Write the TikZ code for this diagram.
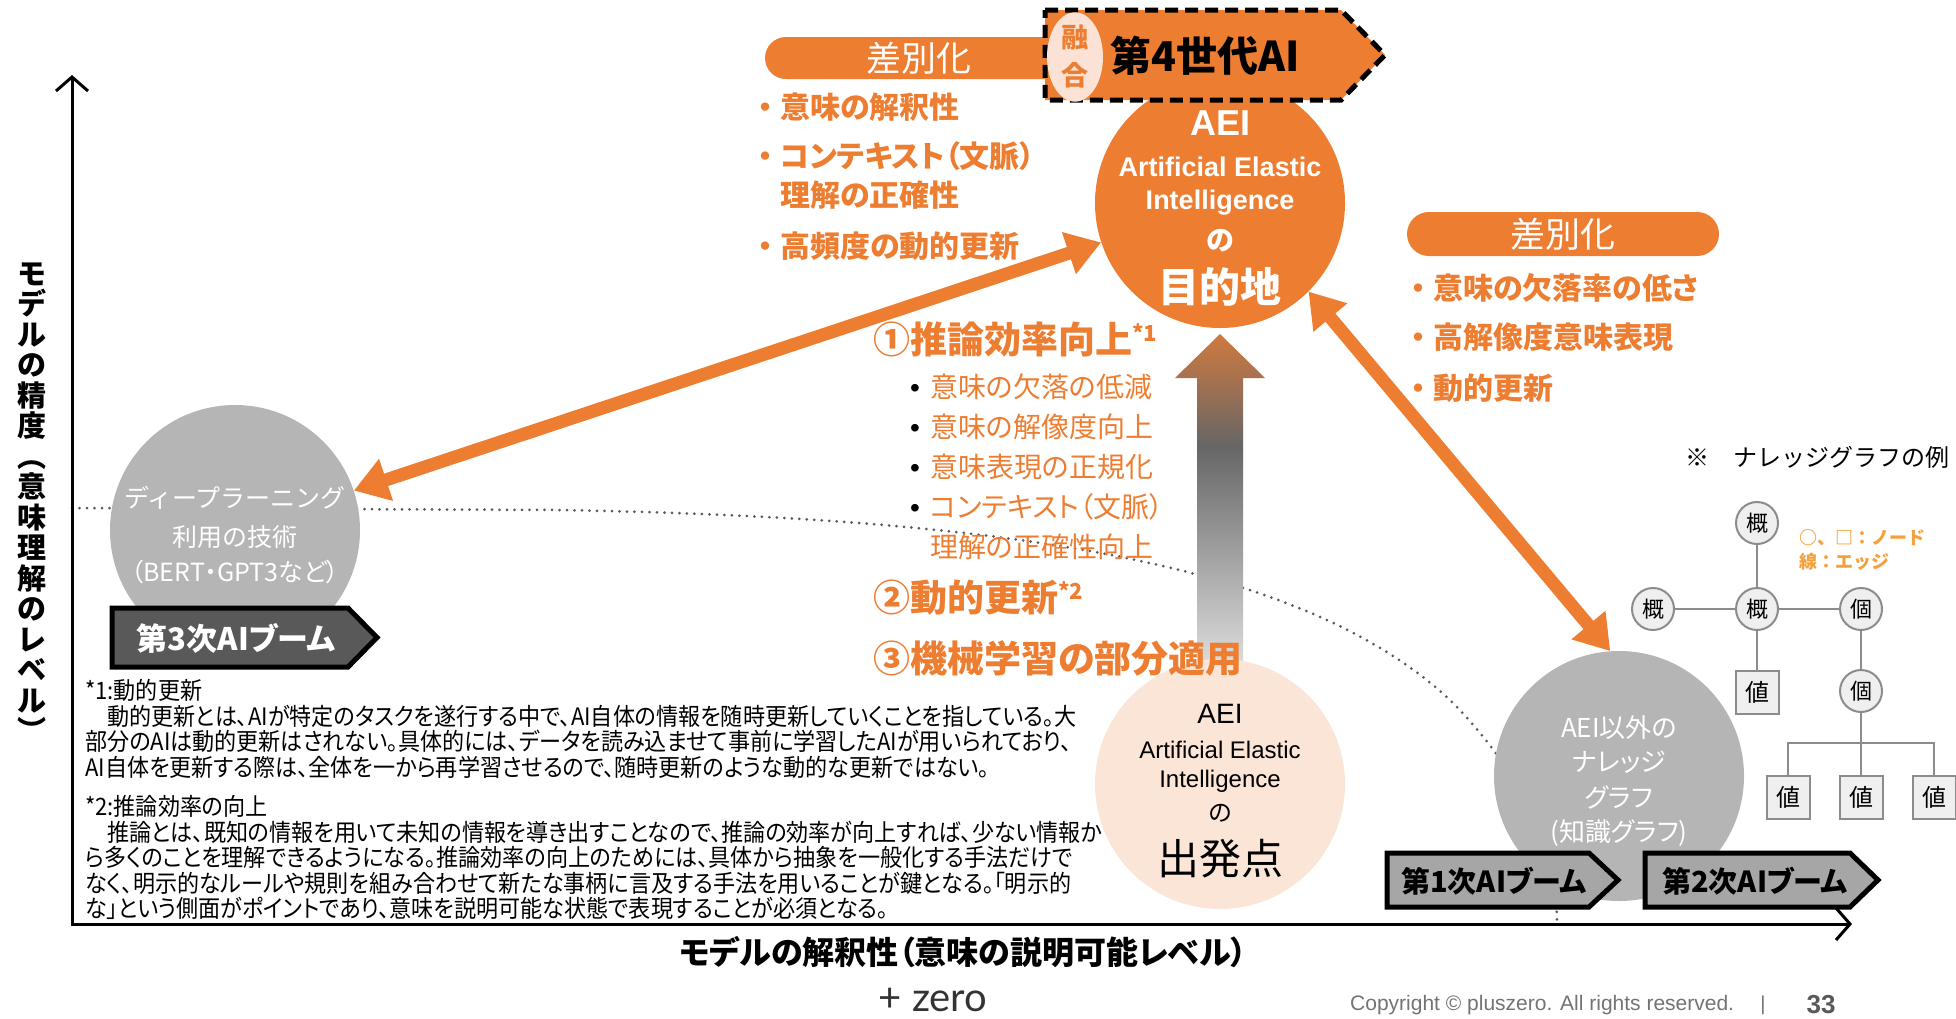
\documentclass[tikz,border=0pt]{standalone}
\usepackage{fontspec}
\setmainfont{Noto Sans CJK JP}[RawFeature=+palt]
\newfontfamily\fullfont{Noto Sans CJK JP}
\newfontfamily\latinfont{Liberation Sans}
\newfontfamily\notefont{Noto Sans CJK JP}[FakeStretch=0.92,RawFeature=+palt]
\newfontfamily\zerofont{Lato}
\usetikzlibrary{arrows.meta,shapes.geometric}

\definecolor{aeiorange}{HTML}{ED7D31}
\definecolor{aeipeach}{HTML}{FBE5D6}
\definecolor{fusionpink}{HTML}{FBE2D5}
\definecolor{boomgray}{HTML}{B5B5B5}
\definecolor{boomdark}{HTML}{595959}
\definecolor{boomlight}{HTML}{A6A6A6}
\definecolor{legendorange}{HTML}{F6A03C}
\definecolor{kgline}{HTML}{8C8C8C}
\definecolor{kgfill}{HTML}{EFEFEF}
\definecolor{lifttop}{HTML}{CF7A3F}
\definecolor{liftmid}{HTML}{666666}
\definecolor{liftlow}{HTML}{DDDDDD}
\pgfdeclareverticalshading{liftshade}{100bp}{color(0bp)=(liftlow); color(25bp)=(liftlow); color(58bp)=(liftmid); color(75bp)=(lifttop); color(100bp)=(lifttop)}
\newcommand{\fsz}[1]{\fontsize{#1}{#1}\selectfont}
\newcommand{\dotmark}{\makebox[30pt][c]{・}}

\begin{document}
\begin{tikzpicture}[x=1pt,y=-1pt,
    bigcircle/.style={circle,minimum size=250pt,inner sep=0pt},
    biarrow/.style={draw=aeiorange,line width=13pt,{Triangle[length=34pt,width=42pt]}-{Triangle[length=34pt,width=42pt]}},
    boomtag/.style={draw=black,line width=5pt,line join=miter},
    bullet/.style={anchor=west,inner sep=0pt,text=aeiorange,font=\bfseries\fsz{30}},
    subitem/.style={anchor=west,inner sep=0pt,text=aeiorange,font=\fsz{28}},
    gain/.style={anchor=west,inner sep=0pt,text=aeiorange,font=\bfseries\fsz{37}},
    kgnode/.style={circle,draw=kgline,fill=kgfill,line width=2pt,minimum size=42pt,inner sep=0pt,font=\fsz{22}},
    kgval/.style={rectangle,draw=kgline,fill=kgfill,line width=2pt,minimum size=43pt,inner sep=0pt,font=\fsz{24}},
    kgedge/.style={draw=kgline,line width=2pt},
    note/.style={anchor=north west,align=left,inner sep=0pt,font=\notefont\fontsize{24}{25.6}\selectfont},
  ]
  \useasboundingbox (0,0) rectangle (1956,1018);

  % Dotted border line
  \draw[draw=boomdark,line width=3pt,line cap=round,dash pattern=on 0pt off 7.5pt]
    (72,508) -- (560,510) .. controls (1000,518) and (1300,560) .. (1450,700)
    .. controls (1530,780) and (1557,860) .. (1557,924);

  % Rising arrow
  \path[shading=liftshade] (1197,665) -- (1197,378) -- (1175,378) -- (1220,334)
    -- (1265,378) -- (1243,378) -- (1243,665) -- cycle;

  % Circles
  \node[bigcircle,fill=boomgray] (deep) at (235,530) {};
  \node[bigcircle,fill=aeiorange] (goal) at (1220,203) {};
  \node[bigcircle,fill=aeipeach] (start) at (1220,784) {};
  \node[bigcircle,fill=boomgray] (kg) at (1619,776) {};

  % Orange arrows
  \draw[biarrow] (deep) -- (goal);
  \draw[biarrow] (goal.-45) -- (kg.94);

  % Boom tags
  \draw[boomtag,fill=boomdark] (112,608) -- (348,608) -- (377,637.5) -- (348,667) -- (112,667) -- cycle;
  \node[text=white,font=\bfseries\fsz{31}] (boom3) at (236,638) {第3次AIブーム};
  \draw[boomtag,fill=boomlight] (1387,853) -- (1589,853) -- (1618,880) -- (1589,907) -- (1387,907) -- cycle;
  \node[font=\bfseries\fsz{29}] (boom1) at (1494,881) {第1次AIブーム};
  \draw[boomtag,fill=boomlight] (1645,853) -- (1850,853) -- (1878,880) -- (1850,907) -- (1645,907) -- cycle;
  \node[font=\bfseries\fsz{29}] (boom2) at (1755,881) {第2次AIブーム};

  % Banner and pills
  \fill[aeiorange,rounded corners=21pt] (765,37) rectangle (1070,79);
  \node[text=white,font=\fsz{35}] (diffleft) at (919,58) {差別化};
  \draw[fill=aeiorange,line width=5pt,dash pattern=on 13pt off 7pt]
    (1045,10) -- (1341,10) -- (1385,55) -- (1341,100) -- (1045,100) -- cycle;
  \node[ellipse,fill=fusionpink,minimum width=56pt,minimum height=86pt,inner sep=0pt,
    text=aeiorange,align=center,font=\bfseries\fontsize{27}{38}\selectfont] (fusion) at (1075,57) {融\\合};
  \node[font=\bfseries\fsz{41}] (gen4) at (1205,56) {第4世代AI};
  \fill[aeiorange,rounded corners=22pt] (1407,212) rectangle (1719,256);
  \node[text=white,font=\fsz{35}] (diffright) at (1563,234) {差別化};

  % Left features
  \node[bullet] (leftA) at (750,107) {\dotmark 意味の解釈性};
  \node[bullet] (leftB) at (750,156) {\dotmark コンテキスト（文脈）};
  \node[bullet] (leftC) at (750,195) {\hspace{30pt}理解の正確性};
  \node[bullet] (leftD) at (750,246) {\dotmark 高頻度の動的更新};

  % Right features
  \node[bullet] (rightA) at (1403,288) {\dotmark 意味の欠落率の低さ};
  \node[bullet] (rightB) at (1403,337) {\dotmark 高解像度意味表現};
  \node[bullet] (rightC) at (1403,388) {\dotmark 動的更新};

  % Improvements
  \node[gain] (gainA) at (873,339) {①推論効率向上\raisebox{12pt}{\fsz{22}*1}};
  \node[subitem] (subA) at (910,387) {\makebox[20pt][l]{\color{black}\latinfont•}意味の欠落の低減};
  \node[subitem] (subB) at (910,427) {\makebox[20pt][l]{\color{black}\latinfont•}意味の解像度向上};
  \node[subitem] (subC) at (910,467) {\makebox[20pt][l]{\color{black}\latinfont•}意味表現の正規化};
  \node[subitem] (subD) at (910,507) {\makebox[20pt][l]{\color{black}\latinfont•}コンテキスト（文脈）};
  \node[subitem] (subE) at (910,547) {\hspace{20pt}理解の正確性向上};
  \node[gain] (gainB) at (873,598) {②動的更新\raisebox{12pt}{\fsz{22}*2}};
  \node[gain] (gainC) at (873,658) {③機械学習の部分適用};

  % Goal circle text
  \node[text=white,font=\latinfont\bfseries\fsz{36}] (goalA) at (1220,123) {AEI};
  \node[text=white,font=\latinfont\bfseries\fsz{27}] (goalB) at (1220,167) {Artificial Elastic};
  \node[text=white,font=\latinfont\bfseries\fsz{27}] (goalC) at (1220,203) {Intelligence};
  \node[text=white,font=\bfseries\fsz{28}] (goalD) at (1220,241) {の};
  \node[text=white,font=\bfseries\fsz{41}] (goalE) at (1220,287) {目的地};

  % Start circle text
  \node[font=\latinfont\fsz{28}] (startA) at (1220,714) {AEI};
  \node[font=\latinfont\fsz{24}] (startB) at (1220,750) {Artificial Elastic};
  \node[font=\latinfont\fsz{24}] (startC) at (1220,781) {Intelligence};
  \node[font=\fsz{24}] (startD) at (1220,813) {の};
  \node[font=\fsz{42}] (startE) at (1220,859) {出発点};

  % Grey circle text
  \node[text=white,font=\fullfont\fsz{25}] (deepA) at (235,498) {ディープラーニング};
  \node[text=white,font=\fullfont\fsz{25}] (deepB) at (235,537) {利用の技術};
  \node[text=white,font=\fsz{25}] (deepC) at (235,572) {（BERT・GPT3など）};
  \node[text=white,font=\fsz{26}] (kgA) at (1619,728) {AEI以外の};
  \node[text=white,font=\fsz{26}] (kgB) at (1619,762) {ナレッジ};
  \node[text=white,font=\fsz{26}] (kgC) at (1619,797) {グラフ};
  \node[text=white,font=\fsz{26}] (kgD) at (1619,833) {(知識グラフ)};

  % Knowledge graph example
  \node[anchor=west,inner sep=0pt,font=\fullfont\fsz{24}] (kgtitle) at (1685,457) {※　ナレッジグラフの例};
  \node[kgnode] (ovTop) at (1757,523) {概};
  \node[kgnode] (ovLeft) at (1653,609) {概};
  \node[kgnode] (ovMid) at (1757,609) {概};
  \node[kgnode] (indRight) at (1861,609) {個};
  \node[kgnode] (indLow) at (1861,691) {個};
  \node[kgval] (valMid) at (1757,692) {値};
  \node[kgval] (valA) at (1788,797) {値};
  \node[kgval] (valB) at (1861,797) {値};
  \node[kgval] (valC) at (1934,797) {値};
  \coordinate (busL) at (1788,743);
  \coordinate (busR) at (1934,743);
  \draw[kgedge] (ovTop) -- (ovMid);
  \draw[kgedge] (ovLeft) -- (ovMid);
  \draw[kgedge] (ovMid) -- (indRight);
  \draw[kgedge] (ovMid) -- (valMid);
  \draw[kgedge] (indRight) -- (indLow);
  \draw[kgedge] (indLow) -- (valB);
  \draw[kgedge] (valA) -- (busL) -- (busR) -- (valC);
  \node[anchor=west,align=left,inner sep=0pt,text=legendorange,font=\fullfont\bfseries\fontsize{18}{24}\selectfont] (legend) at (1799,550) {○、□：ノード\\線：エッジ};

  % Notes
  \node[note] (note1) at (85,679) {*1:動的更新\\
    　動的更新とは、AIが特定のタスクを遂行する中で、AI自体の情報を随時更新していくことを指している。大\\
    部分のAIは動的更新はされない。具体的には、データを読み込ませて事前に学習したAIが用いられており、\\
    AI自体を更新する際は、全体を一から再学習させるので、随時更新のような動的な更新ではない。};
  \node[note] (note2) at (85,795) {*2:推論効率の向上\\
    　推論とは、既知の情報を用いて未知の情報を導き出すことなので、推論の効率が向上すれば、少ない情報か\\
    ら多くのことを理解できるようになる。推論効率の向上のためには、具体から抽象を一般化する手法だけで\\
    なく、明示的なルールや規則を組み合わせて新たな事柄に言及する手法を用いることが鍵となる。「明示的\\
    な」という側面がポイントであり、意味を説明可能な状態で表現することが必須となる。};

  % Axes
  \coordinate (origin) at (72,924);
  \coordinate (ytip) at (72,75);
  \coordinate (xtip) at (1852,924);
  \draw[line width=3pt,{Straight Barb[length=14pt,width=32pt]}-{Straight Barb[length=14pt,width=32pt]}]
    (ytip) -- (origin) -- (xtip);
  \node[align=center,inner sep=0pt,font=\fullfont\bfseries\fontsize{29}{30.5}\selectfont] (ylabel) at (32,502)
    {モ\\デ\\ル\\の\\精\\度\\︵\\意\\味\\理\\解\\の\\レ\\ベ\\ル\\︶};
  \node[font=\bfseries\fsz{32}] (xlabel) at (963,952) {モデルの解釈性（意味の説明可能レベル）};

  % Footer
  \node[inner sep=0pt,font=\zerofont\fsz{40},text=black!80] (logo) at (933,1000) {+ zero};
  \node[anchor=west,inner sep=0pt,font=\latinfont\fsz{21},text=black!55] (copyright) at (1350,1005) {Copyright © pluszero. All rights reserved.};
  \node[font=\latinfont\fsz{20},text=black!55] (bar) at (1763,1005) {|};
  \node[font=\latinfont\bfseries\fsz{26},text=boomdark] (page) at (1821,1005) {33};
\end{tikzpicture}
\end{document}
